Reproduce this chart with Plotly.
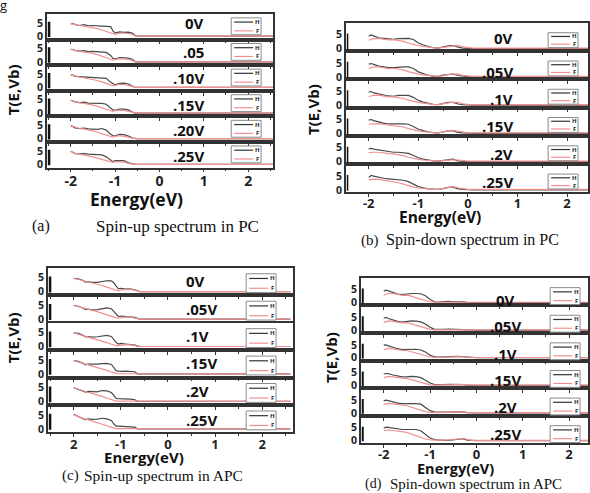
import plotly.graph_objects as go

W, H = 590, 493

# ---------------- data ----------------
VOLTS_A = ["0V", ".05", ".10V", ".15V", ".20V", ".25V"]
VOLTS = ["0V", ".05V", ".1V", ".15V", ".2V", ".25V"]
XT_VALS = [-2, -1, 0, 1, 2]
XT_STD = ["-2", "-1", "0", "1", "2"]
XT_C = ["2", "-1", "0", "1", "2"]
YT_VALS = [0, 5]
YT_TEXT = ["0", "5"]

# (a) spin-up PC
GA = [-2.0, -1.95, -1.9, -1.8, -1.7, -1.6, -1.5, -1.4, -1.3, -1.2, -1.1, -1.05, -1.0, -0.9, -0.8, -0.7, -0.6, -0.55, -0.5, 2.6]
A_H = [
    [4.6, 4.8, 4.3, 4.0, 4.3, 3.9, 4.0, 3.8, 3.8, 3.7, 3.6, 2.0, 1.2, 1.6, 1.4, 1.5, 1.1, 0.2, 0, 0],
    [4.7, 4.6, 4.2, 4.0, 4.2, 3.8, 3.9, 3.7, 3.7, 3.5, 2.4, 1.3, 1.0, 1.6, 1.5, 1.4, 0.9, 0.1, 0, 0],
    [4.7, 4.6, 4.1, 4.0, 4.1, 3.8, 3.8, 3.6, 3.6, 3.4, 1.9, 1.4, 1.0, 1.5, 1.6, 1.3, 0.5, 0, 0, 0],
    [4.8, 4.5, 4.2, 3.9, 4.1, 3.7, 3.7, 3.6, 3.6, 3.3, 1.9, 1.2, 1.0, 1.5, 1.5, 1.2, 0.3, 0, 0, 0],
    [4.9, 4.5, 4.0, 3.8, 4.0, 3.7, 3.6, 3.5, 3.8, 3.2, 1.7, 1.2, 1.1, 1.6, 1.5, 1.0, 0.2, 0, 0, 0],
    [4.9, 4.4, 4.0, 3.9, 4.0, 3.8, 3.7, 3.6, 3.5, 2.8, 1.6, 1.0, 1.4, 1.5, 1.4, 0.6, 0.1, 0, 0, 0],
]
A_F = [
    [4.7, 4.6, 4.4, 4.0, 3.7, 3.5, 3.2, 2.8, 2.3, 1.7, 1.1, 0.8, 0.7, 1.1, 1.2, 1.0, 0.6, 0.1, 0, 0],
    [4.7, 4.6, 4.3, 3.9, 3.7, 3.5, 3.1, 2.7, 2.2, 1.6, 1.0, 0.7, 0.8, 1.2, 1.1, 0.9, 0.4, 0, 0, 0],
    [4.8, 4.5, 4.3, 3.9, 3.6, 3.4, 3.1, 2.6, 2.1, 1.5, 0.9, 0.6, 0.8, 1.2, 1.1, 0.8, 0.3, 0, 0, 0],
    [4.8, 4.5, 4.2, 3.8, 3.6, 3.4, 3.0, 2.5, 2.0, 1.4, 0.8, 0.6, 0.9, 1.1, 1.0, 0.6, 0.2, 0, 0, 0],
    [4.9, 4.6, 4.2, 3.8, 3.6, 3.3, 2.9, 2.4, 1.9, 1.3, 0.8, 0.6, 0.9, 1.1, 0.9, 0.5, 0.1, 0, 0, 0],
    [4.9, 4.5, 4.1, 3.8, 3.5, 3.2, 2.8, 2.3, 1.8, 1.2, 0.7, 0.7, 1.0, 1.0, 0.8, 0.3, 0, 0, 0, 0],
]

# (b) spin-down PC
GB = [-2.0, -1.95, -1.9, -1.8, -1.7, -1.6, -1.5, -1.4, -1.3, -1.2, -1.1, -1.0, -0.9, -0.8, -0.7, -0.6, -0.5, -0.4, -0.3, -0.2, -0.1, 0.0, 0.1, 2.5]
B_H = [
    [4.5, 4.9, 4.6, 3.9, 3.7, 3.4, 3.3, 3.6, 3.7, 3.7, 3.3, 2.0, 1.3, 0.7, 0.3, 0.2, 0.7, 1.0, 1.1, 0.5, 0.2, 0.1, 0, 0],
    [4.6, 4.8, 4.5, 3.9, 3.6, 3.3, 3.3, 3.5, 3.6, 3.6, 3.0, 1.8, 1.2, 0.6, 0.3, 0.2, 0.6, 0.9, 1.0, 0.5, 0.2, 0.1, 0, 0],
    [4.7, 4.9, 4.4, 4.0, 3.6, 3.3, 3.2, 3.5, 3.5, 3.5, 2.8, 1.7, 1.1, 0.6, 0.3, 0.2, 0.6, 1.0, 1.0, 0.4, 0.2, 0.1, 0, 0],
    [4.8, 5.0, 4.6, 4.1, 3.7, 3.4, 3.3, 3.4, 3.4, 3.3, 2.5, 1.5, 1.0, 0.5, 0.3, 0.2, 0.5, 0.9, 0.9, 0.4, 0.2, 0, 0, 0],
    [4.6, 4.8, 4.5, 4.2, 3.8, 3.5, 3.4, 3.4, 3.3, 3.0, 2.2, 1.4, 0.9, 0.5, 0.3, 0.2, 0.4, 0.8, 0.9, 0.3, 0.1, 0, 0, 0],
    [4.6, 5.2, 5.0, 4.5, 4.2, 4.0, 3.9, 3.7, 3.5, 3.0, 2.0, 1.2, 0.8, 0.4, 0.3, 0.2, 0.5, 0.9, 1.0, 0.4, 0.2, 0.1, 0, 0],
]
B_F = [
    [3.0, 3.4, 3.6, 3.7, 3.3, 3.1, 3.2, 3.0, 2.6, 2.0, 1.5, 1.1, 0.8, 0.5, 0.3, 0.2, 0.4, 0.8, 1.0, 1.2, 0.6, 0.3, 0.2, 0.2],
    [3.0, 3.3, 3.6, 3.6, 3.3, 3.0, 3.1, 2.9, 2.5, 1.9, 1.4, 1.0, 0.7, 0.5, 0.3, 0.2, 0.4, 0.9, 1.0, 1.1, 0.5, 0.3, 0.2, 0.2],
    [3.1, 3.3, 3.5, 3.6, 3.3, 3.0, 3.0, 2.8, 2.4, 1.8, 1.3, 1.0, 0.7, 0.4, 0.3, 0.2, 0.5, 0.9, 1.1, 1.0, 0.5, 0.3, 0.2, 0.2],
    [3.3, 3.4, 3.5, 3.5, 3.2, 3.0, 2.9, 2.7, 2.3, 1.7, 1.2, 0.9, 0.6, 0.4, 0.3, 0.2, 0.5, 1.0, 1.1, 0.9, 0.5, 0.2, 0.2, 0.2],
    [3.3, 3.4, 3.4, 3.4, 3.1, 2.9, 2.8, 2.6, 2.2, 1.6, 1.1, 0.8, 0.6, 0.4, 0.3, 0.2, 0.4, 0.6, 0.7, 0.6, 0.3, 0.2, 0.2, 0.2],
    [3.6, 3.8, 3.9, 3.8, 3.5, 3.2, 3.0, 2.6, 2.1, 1.5, 1.0, 0.7, 0.5, 0.3, 0.2, 0.2, 0.5, 1.0, 1.2, 0.8, 0.4, 0.2, 0.2, 0.2],
]

# (c) spin-up APC
GC = [-2.0, -1.9, -1.8, -1.75, -1.7, -1.6, -1.5, -1.4, -1.3, -1.2, -1.15, -1.1, -1.05, -1.0, -0.9, -0.8, -0.7, -0.65, -0.6, 2.6]
C_H = [
    [4.8, 4.6, 4.0, 3.4, 3.6, 3.3, 3.3, 3.6, 3.9, 3.9, 3.2, 2.0, 1.0, 1.2, 0.9, 1.0, 0.7, 0.4, 0, 0],
    [4.9, 4.6, 3.9, 3.4, 3.6, 3.3, 3.4, 3.8, 4.0, 3.7, 2.8, 1.6, 0.9, 1.1, 1.0, 0.9, 0.6, 0.3, 0, 0],
    [4.9, 4.7, 4.0, 3.5, 3.6, 3.4, 3.5, 3.7, 4.0, 3.6, 2.6, 1.4, 0.9, 1.1, 0.9, 0.8, 0.5, 0.2, 0, 0],
    [4.8, 4.5, 3.8, 3.3, 3.5, 3.4, 3.5, 3.7, 3.8, 3.4, 2.3, 1.2, 1.0, 0.9, 1.0, 0.8, 0.8, 0, 0, 0],
    [4.9, 4.3, 3.7, 3.3, 3.6, 3.5, 3.4, 3.9, 3.8, 3.2, 2.0, 1.1, 1.0, 1.0, 0.8, 0.8, 0.6, 0, 0, 0],
    [5.2, 4.4, 3.8, 3.2, 3.6, 3.4, 3.5, 3.8, 3.6, 3.0, 1.8, 1.0, 1.0, 0.9, 0.8, 0.7, 0.6, 0, 0, 0],
]
C_F = [
    [4.8, 4.4, 3.9, 3.7, 3.5, 3.1, 2.7, 2.2, 1.6, 1.0, 0.7, 0.4, 0.3, 0.6, 0.8, 0.8, 0.5, 0.2, 0, 0],
    [4.9, 4.4, 3.9, 3.7, 3.5, 3.1, 2.7, 2.1, 1.5, 0.9, 0.6, 0.4, 0.3, 0.5, 0.7, 0.7, 0.4, 0.1, 0, 0],
    [4.9, 4.4, 3.9, 3.7, 3.5, 3.0, 2.6, 2.0, 1.4, 0.8, 0.5, 0.3, 0.3, 0.5, 0.7, 0.6, 0.3, 0.1, 0, 0],
    [4.8, 4.3, 3.8, 3.6, 3.4, 2.9, 2.5, 1.9, 1.3, 0.7, 0.4, 0.2, 0.1, 0.1, 0.1, 0.1, 0.1, 0, 0, 0],
    [4.9, 4.3, 3.8, 3.6, 3.3, 2.8, 2.4, 1.8, 1.2, 0.6, 0.3, 0.1, 0.1, 0.1, 0.1, 0.1, 0, 0, 0, 0],
    [5.0, 4.3, 3.8, 3.5, 3.3, 2.8, 2.3, 1.7, 1.1, 0.5, 0.2, 0.1, 0.1, 0.1, 0.1, 0, 0, 0, 0, 0],
]

# (d) spin-down APC
GD = [-2.0, -1.95, -1.9, -1.8, -1.7, -1.6, -1.5, -1.4, -1.3, -1.2, -1.1, -1.0, -0.9, -0.8, -0.7, -0.6, -0.5, -0.4, -0.3, -0.2, -0.1, 0.0, 2.5]
D_H = [
    [4.4, 4.8, 4.5, 3.8, 3.3, 3.1, 3.4, 3.5, 3.5, 3.4, 2.6, 1.2, 0.3, 0.2, 0.4, 0.5, 0.3, 0.4, 0.3, 0.1, 0, 0, 0],
    [4.6, 4.9, 4.5, 3.8, 3.4, 3.1, 3.3, 3.6, 3.5, 3.2, 2.4, 1.1, 0.3, 0.2, 0.3, 0.4, 0.3, 0.4, 0.3, 0.1, 0, 0, 0],
    [4.9, 5.0, 4.6, 3.9, 3.5, 3.2, 3.2, 3.4, 3.3, 3.0, 2.2, 1.0, 0.3, 0.2, 0.3, 0.4, 0.4, 0.5, 0.4, 0.2, 0, 0, 0],
    [4.5, 4.7, 4.6, 4.0, 3.6, 3.3, 3.3, 3.5, 3.4, 3.0, 2.0, 0.9, 0.3, 0.2, 0.3, 0.4, 0.4, 0.5, 0.3, 0.1, 0, 0, 0],
    [4.7, 5.0, 4.8, 4.2, 3.8, 3.6, 3.6, 3.7, 3.6, 3.4, 2.2, 0.9, 0.3, 0.2, 0.3, 0.3, 0.4, 0.5, 0.4, 0.1, 0, 0, 0],
    [4.8, 5.2, 5.1, 4.8, 4.4, 4.3, 4.3, 4.4, 4.3, 3.8, 2.4, 1.0, 0.4, 0.2, 0.1, 0.1, 0.3, 0.6, 0.7, 0.2, 0, 0, 0],
]
D_F = [
    [2.8, 3.2, 3.5, 3.5, 3.1, 2.8, 2.9, 2.5, 1.8, 1.2, 0.7, 0.3, 0.1, 0.1, 0.2, 0.3, 0.2, 0.3, 0.3, 0.2, 0.1, 0.1, 0.1],
    [2.9, 3.3, 3.6, 3.4, 3.0, 2.8, 2.9, 2.4, 1.7, 1.1, 0.6, 0.3, 0.1, 0.1, 0.2, 0.3, 0.3, 0.3, 0.3, 0.2, 0.1, 0.1, 0.1],
    [3.1, 3.4, 3.6, 3.4, 3.0, 2.8, 2.8, 2.3, 1.6, 1.0, 0.6, 0.3, 0.1, 0.1, 0.2, 0.3, 0.3, 0.4, 0.3, 0.2, 0.1, 0.1, 0.1],
    [3.0, 3.3, 3.5, 3.3, 3.0, 2.8, 2.7, 2.2, 1.5, 1.0, 0.5, 0.2, 0.1, 0.1, 0.2, 0.3, 0.3, 0.4, 0.3, 0.2, 0.1, 0.1, 0.1],
    [3.3, 3.6, 3.7, 3.5, 3.2, 3.0, 2.8, 2.2, 1.6, 1.0, 0.5, 0.2, 0.1, 0.1, 0.2, 0.3, 0.3, 0.4, 0.4, 0.2, 0.1, 0.1, 0.1],
    [3.8, 4.0, 4.1, 3.9, 3.6, 3.4, 3.2, 2.5, 1.8, 1.1, 0.6, 0.3, 0.2, 0.1, 0.2, 0.3, 0.4, 0.6, 0.9, 0.4, 0.1, 0.1, 0.1],
]

# ---------------- layout config (pixel geometry) ----------------
PANELS = [
    dict(G=GA, HS=A_H, FS=A_F, labels=VOLTS_A, tt=XT_STD,
         left=47, right=274, top=14, bottom=169, xm2=71, xp2=249, y5=9, y0=22.5,
         lab_x=207, lab_anchor="right", lab_dy=[9, 13, 13, 14, 14, 14],
         leg=(232, 262, 4, 21), bar=(48, 50.5), standoff=-3, tsize=14),
    dict(G=GB, HS=B_H, FS=B_F, labels=VOLTS, tt=XT_STD,
         left=347, right=590, top=23, bottom=194, xm2=370, xp2=569, y5=12, y0=26,
         lab_x=517, lab_anchor="right", lab_dy=[15, 21, 20, 19, 18, 18],
         leg=(550, 580, 10, 25), bar=(348, 349.5), standoff=-5, tsize=13),
    dict(G=GC, HS=C_H, FS=C_F, labels=VOLTS, tt=XT_C,
         left=48, right=294, top=270, bottom=436, xm2=74, xp2=263, y5=10, y0=24,
         lab_x=185, lab_anchor="left", lab_dy=[13, 14, 13, 13, 14, 15],
         leg=(247, 277, 6, 25), bar=(49, 51.5), standoff=-4, tsize=13),
    dict(G=GD, HS=D_H, FS=D_F, labels=VOLTS, tt=XT_STD,
         left=362, right=590, top=280, bottom=447, xm2=385, xp2=571, y5=12, y0=25,
         lab_x=507, lab_anchor="center", lab_dy=[22, 21, 21, 19.5, 19, 18],
         leg=(552, 582, 10, 27), bar=(363, 365), standoff=-5, tsize=13),
]

H_COLOR = "#4a4a4a"
F_COLOR = "#f29090"
AX_COLOR = "#333333"
SANS = "Open Sans"
SERIF = "Liberation Serif"


def px(x):
    return x / W


def py(y):
    return 1 - y / H


fig = go.Figure()
shapes = []
annotations = []
layout_axes = {}

n = 0
for p in PANELS:
    row_h = (p["bottom"] - p["top"]) / 6
    ppx = (p["xp2"] - p["xm2"]) / 4
    xlo = -2 - (p["xm2"] - p["left"]) / ppx
    xhi = 2 + (p["right"] - p["xp2"]) / ppx
    ppy = (p["y0"] - p["y5"]) / 5
    ylo = -(row_h - p["y0"]) / ppy
    yhi = 5 + p["y5"] / ppy
    for i in range(6):
        n += 1
        rt = p["top"] + i * row_h
        rb = rt + row_h
        xa = "x" if n == 1 else f"x{n}"
        ya = "y" if n == 1 else f"y{n}"
        xk = "xaxis" if n == 1 else f"xaxis{n}"
        yk = "yaxis" if n == 1 else f"yaxis{n}"
        last = (i == 5)
        fig.add_trace(go.Scatter(x=p["G"], y=p["HS"][i], mode="lines", xaxis=xa, yaxis=ya,
                                 line=dict(color=H_COLOR, width=1.2), showlegend=False, hoverinfo="skip"))
        fig.add_trace(go.Scatter(x=p["G"], y=p["FS"][i], mode="lines", xaxis=xa, yaxis=ya,
                                 line=dict(color=F_COLOR, width=1.2), showlegend=False, hoverinfo="skip"))
        layout_axes[xk] = dict(
            domain=[px(p["left"]), min(1.0, px(p["right"]))], range=[xlo, xhi], anchor=ya,
            showgrid=False, zeroline=False, showline=True, linecolor=AX_COLOR, linewidth=1.5, mirror=True,
            tickmode="array", tickvals=XT_VALS, ticktext=p["tt"], showticklabels=last,
            ticks="outside", ticklen=3, tickcolor=AX_COLOR, tickwidth=1,
            ticklabelstandoff=p["standoff"],
            minor=dict(tickmode="array", tickvals=[-2.5, -1.5, -0.5, 0.5, 1.5, 2.5], ticks="outside",
                       ticklen=2, tickcolor=AX_COLOR),
            tickfont=dict(family=SANS, size=p["tsize"], color="#222", weight="bold"),
            fixedrange=True,
        )
        layout_axes[yk] = dict(
            domain=[py(rb), py(rt)], range=[ylo, yhi], anchor=xa,
            showgrid=False, zeroline=False, showline=True, linecolor=AX_COLOR, linewidth=1.5, mirror=True,
            tickmode="array", tickvals=YT_VALS, ticktext=YT_TEXT, ticks="",
            tickfont=dict(family=SANS, size=10.5, color="#222", weight="bold"),
            fixedrange=True,
        )
        # dense tick bar at left of the frame
        shapes.append(dict(type="rect", xref="paper", yref=ya, x0=px(p["bar"][0]), x1=px(p["bar"][1]),
                           y0=-0.3, y1=5.4, fillcolor="#111", line=dict(width=0), layer="above"))
        # legend box
        lx0, lx1, ly0, ly1 = p["leg"]
        shapes.append(dict(type="rect", xref="paper", yref="paper", x0=px(lx0), x1=px(lx1),
                           y0=py(rt + ly1), y1=py(rt + ly0), fillcolor="white",
                           line=dict(color="#8a8a8a", width=1), layer="above"))
        hy = rt + ly0 + (ly1 - ly0) * 0.25
        fy = rt + ly0 + (ly1 - ly0) * 0.77
        shapes.append(dict(type="line", xref="paper", yref="paper", x0=px(lx0 + 3), x1=px(lx1 - 8),
                           y0=py(hy), y1=py(hy), line=dict(color="#333", width=1.2), layer="above"))
        shapes.append(dict(type="line", xref="paper", yref="paper", x0=px(lx0 + 3), x1=px(lx1 - 8),
                           y0=py(fy), y1=py(fy), line=dict(color=F_COLOR, width=1.2), layer="above"))
        for txt, yy in (("H", hy), ("F", fy)):
            annotations.append(dict(text=f"<b>{txt}</b>", x=px(lx1 - 4), y=py(yy), xref="paper", yref="paper",
                                    showarrow=False, xanchor="center", yanchor="middle",
                                    font=dict(family=SANS, size=6, color="#222")))
        # voltage label
        annotations.append(dict(text=f"<b>{p['labels'][i]}</b>", x=px(p["lab_x"]), y=py(rt + p["lab_dy"][i]),
                                xref="paper", yref="paper", showarrow=False, xanchor=p["lab_anchor"],
                                yanchor="middle", font=dict(family=SANS, size=15, color="#111")))

fig.update_layout(**layout_axes)

# panel texts
TEXTS = [
    # (text, x, y, size, family, angle)
    ("<b>T(E,Vb)</b>", 13, 90, 15, SANS, -90),
    ("<b>Energy(eV)</b>", 137, 201, 17.5, SANS, 0),
    ("(a)", 41, 228, 16, SERIF, 0),
    ("Spin-up spectrum in PC", 178, 228, 17, SERIF, 0),
    ("<b>T(E,Vb)</b>", 314, 110, 15, SANS, -90),
    ("<b>Energy(eV)</b>", 441, 219, 15.5, SANS, 0),
    ("(b)", 371, 242, 15, SERIF, 0),
    ("Spin-down spectrum in PC", 474, 242, 16, SERIF, 0),
    ("<b>T(E,Vb)</b>", 13, 340, 15, SANS, -90),
    ("<b>Energy(eV)</b>", 144, 461, 15, SANS, 0),
    ("(c)", 71, 479, 15, SERIF, 0),
    ("Spin-up spectrum in APC", 164, 479, 15.5, SERIF, 0),
    ("<b>T(E,Vb)</b>", 332, 360, 15, SANS, -90),
    ("<b>Energy(eV)</b>", 457, 472, 14.5, SANS, 0),
    ("(d)", 375, 488, 14, SERIF, 0),
    ("Spin-down spectrum in APC", 478, 488, 15, SERIF, 0),
    ("g", 4, 5, 13, SANS, 0),
]
for txt, x, y, size, fam, ang in TEXTS:
    annotations.append(dict(text=txt, x=px(x), y=py(y), xref="paper", yref="paper", showarrow=False,
                            xanchor="center", yanchor="middle", textangle=ang,
                            font=dict(family=fam, size=size, color="#111")))

fig.update_layout(
    width=W, height=H, autosize=False,
    margin=dict(l=0, r=0, t=0, b=0),
    paper_bgcolor="white", plot_bgcolor="white",
    shapes=shapes, annotations=annotations, showlegend=False,
)

fig.write_html("out.html")
